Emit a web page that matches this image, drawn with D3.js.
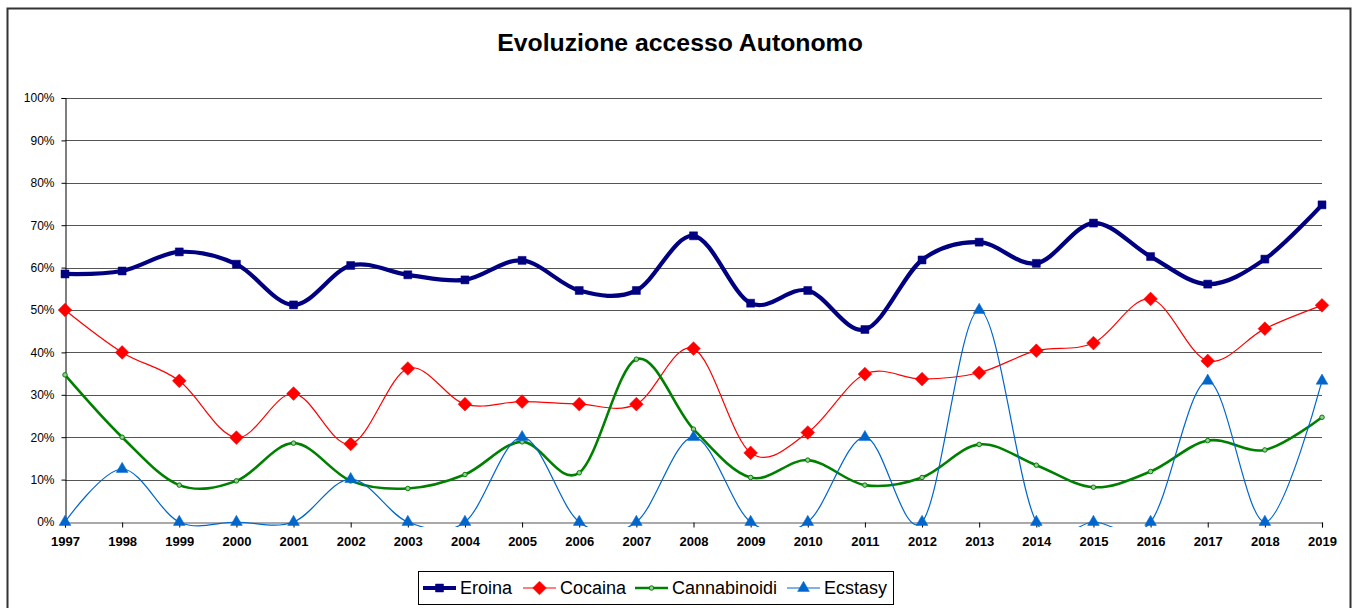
<!DOCTYPE html>
<html>
<head>
<meta charset="utf-8">
<script src="https://cdn.jsdelivr.net/npm/d3@7.9.0/dist/d3.min.js"></script>
<style>
  html, body { margin: 0; padding: 0; background: #fff; }
  svg { display: block; font-family: "Liberation Sans", Arial, sans-serif; }
</style>
</head>
<body>
<svg id="chart" width="1353" height="608"></svg>
<script>
const years = d3.range(1997, 2020);
const eroina = [58.5, 59.2, 63.7, 60.8, 51.2, 60.5, 58.3, 57.1, 61.7, 54.6, 54.6, 67.5, 51.6, 54.6, 45.4, 61.8, 66.0, 61.0, 70.5, 62.6, 56.1, 62.0, 74.8];
const cocaina = [50.0, 40.0, 33.3, 19.9, 30.3, 18.4, 36.2, 27.8, 28.4, 27.8, 27.8, 40.9, 16.3, 21.1, 34.9, 33.7, 35.2, 40.4, 42.2, 52.6, 38.0, 45.6, 51.1];
const cannabinoidi = [34.7, 20.0, 8.7, 9.7, 18.6, 9.7, 7.9, 11.2, 18.9, 11.6, 38.4, 21.9, 10.5, 14.6, 8.7, 10.5, 18.3, 13.4, 8.2, 11.9, 19.2, 17.0, 24.7];
const ecstasy = [0, 12.5, 0, 0, 0, 10.1, 0, 0, 20.0, 0, 0, 20.0, 0, 0, 20.0, 0, 50.0, 0, 0, 0, 33.3, 0, 33.3];
const yTicks = d3.range(0, 101, 10);

const series = [
  { name: 'Eroina', values: eroina, color: '#000080', width: 4.2, marker: 'square' },
  { name: 'Cocaina', values: cocaina, color: '#ff0000', width: 1.2, marker: 'diamond' },
  { name: 'Cannabinoidi', values: cannabinoidi, color: '#008000', width: 2.6, marker: 'circle' },
  { name: 'Ecstasy', values: ecstasy, color: '#0066cc', width: 1.2, marker: 'triangle' }
];

const svg = d3.select('#chart');
const plotL = 65, plotR = 1322, plotT = 98, plotB = 522;

const x = d3.scaleLinear().domain([1997, 2019]).range([plotL, plotR]);
const y = d3.scaleLinear().domain([0, 100]).range([plotB, plotT]);

// outer frame
svg.append('rect')
  .attr('x', 7.5).attr('y', 8.5).attr('width', 1343).attr('height', 620)
  .attr('fill', 'none').attr('stroke', '#333').attr('stroke-width', 2);

svg.append('text')
  .attr('x', 680).attr('y', 51)
  .attr('text-anchor', 'middle')
  .attr('font-size', 24.8).attr('font-weight', 'bold')
  .text('Evoluzione accesso Autonomo');

// gridlines
svg.append('g')
  .selectAll('line')
  .data(yTicks.filter(d => d > 0))
  .join('line')
    .attr('x1', plotL).attr('x2', plotR)
    .attr('y1', d => Math.round(y(d)) + 0.5).attr('y2', d => Math.round(y(d)) + 0.5)
    .attr('stroke', '#555').attr('stroke-width', 1.2);

// y axis
const yAxis = svg.append('g')
  .attr('transform', `translate(${plotL + 0.5},0)`)
  .call(d3.axisLeft(y).tickValues(yTicks).tickSize(4).tickPadding(7).tickFormat(d => d + '%'));
yAxis.selectAll('text').attr('font-size', 12).attr('fill', '#000').attr('font-family', '"Liberation Sans", Arial, sans-serif');
yAxis.selectAll('line, path').attr('stroke', '#000');

// x axis
const xAxis = svg.append('g')
  .attr('transform', `translate(0,${Math.round(plotB) + 0.5})`)
  .call(d3.axisBottom(x).tickValues(years).tickSize(5).tickPadding(9).tickFormat(d3.format('d')));
xAxis.select('.domain').attr('stroke', '#555').attr('stroke-width', 1.2);
xAxis.selectAll('line').attr('stroke', '#000');
xAxis.selectAll('text').attr('font-size', 13).attr('font-weight', 'bold').attr('fill', '#000')
  .attr('font-family', '"Liberation Sans", Arial, sans-serif');

svg.append('clipPath').attr('id', 'plot-clip')
  .append('rect').attr('x', plotL - 10).attr('y', plotT - 10)
  .attr('width', plotR - plotL + 20).attr('height', plotB - plotT + 15);

const line = d3.line()
  .x((d, i) => x(years[i]))
  .y(d => y(d))
  .curve(d3.curveCardinal.tension(0));

const symbols = {
  square: d3.symbol().type(d3.symbolSquare).size(64),
  diamond: d3.symbol().type(d3.symbolDiamond2).size(120),
  circle: d3.symbol().type(d3.symbolCircle).size(16),
  triangle: d3.symbol().type(d3.symbolTriangle).size(60)
};

const plot = svg.append('g').attr('clip-path', 'url(#plot-clip)');

series.forEach(s => {
  plot.append('path')
    .datum(s.values)
    .attr('fill', 'none')
    .attr('stroke', s.color)
    .attr('stroke-width', s.width)
    .attr('d', line);
});

series.forEach(s => {
  svg.append('g')
    .selectAll('path')
    .data(s.values)
    .join('path')
      .attr('transform', (d, i) => `translate(${x(years[i])},${y(d)})`)
      .attr('d', symbols[s.marker]())
      .attr('fill', s.marker === 'circle' ? '#9c9' : s.color)
      .attr('stroke', s.color)
      .attr('stroke-width', s.marker === 'circle' ? 1 : 0.5);
});

// legend
const legend = svg.append('g');
legend.append('rect')
  .attr('x', 418.5).attr('y', 571.5).attr('width', 475).attr('height', 33)
  .attr('fill', '#fff').attr('stroke', '#000').attr('stroke-width', 1);

const legendX = [423, 523, 635, 787];
series.forEach((s, i) => {
  const g = legend.append('g').attr('transform', `translate(${legendX[i]},588)`);
  g.append('line').attr('x1', 0).attr('x2', 33).attr('stroke', s.color).attr('stroke-width', s.width);
  g.append('path').attr('transform', 'translate(16.5,0)').attr('d', symbols[s.marker]())
    .attr('fill', s.marker === 'circle' ? '#9c9' : s.color).attr('stroke', s.color)
    .attr('stroke-width', s.marker === 'circle' ? 1 : 0.5);
  g.append('text').attr('x', 37).attr('y', 0).attr('dy', '0.35em')
    .attr('font-size', 18).attr('fill', '#000').text(s.name);
});
</script>
</body>
</html>
